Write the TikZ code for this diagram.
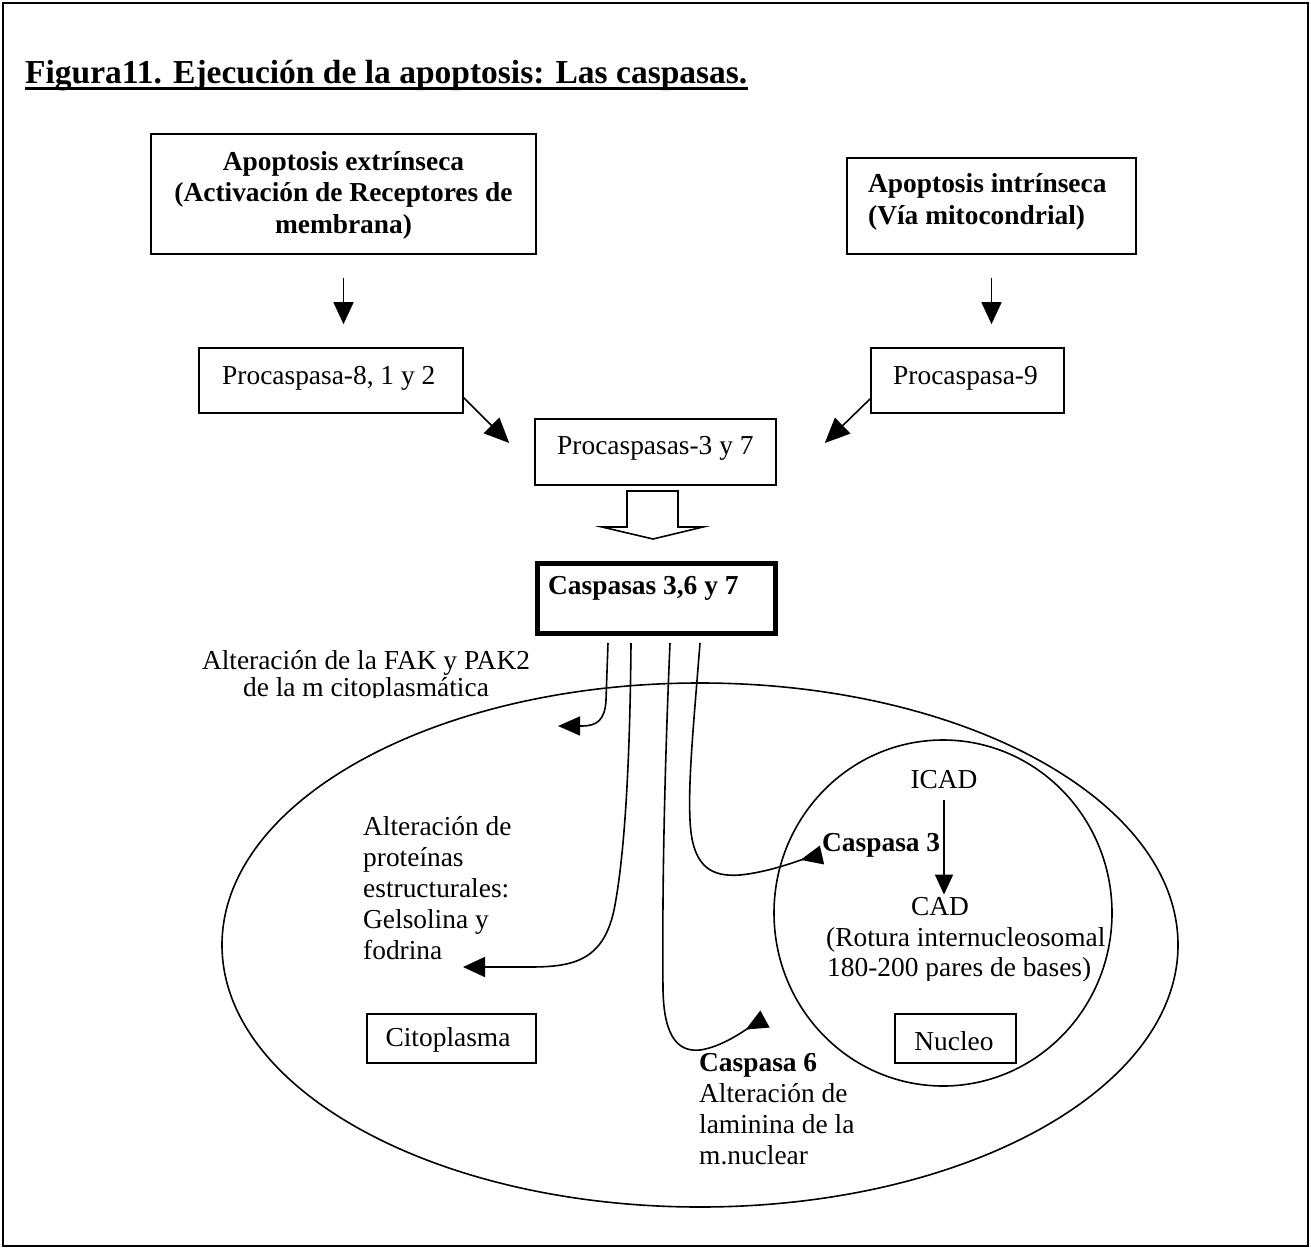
\documentclass[tikz,border=0pt]{standalone}
\usepackage{fontspec}
\setmainfont{Liberation Serif}
\usetikzlibrary{arrows.meta,calc,shapes.geometric}
\begin{document}
\begin{tikzpicture}[x=1pt,y=-1pt,
  body/.style={inner sep=0pt, font=\fontsize{27.4}{31.5}\selectfont},
  bodyb/.style={inner sep=0pt, font=\fontsize{27.4}{31.5}\selectfont\bfseries},
  boxed/.style={draw, line width=1.6pt, inner sep=0pt},
  conn/.style={line width=1.6pt},
  arr/.style={conn, -{Triangle[length=22pt,width=20pt]}},
  rarr/.style={conn, -{Triangle[reversed,length=22pt,width=19pt]}},
]
\useasboundingbox (0,0) rectangle (1311,1249);
% outer frame
\draw[line width=2.5pt] (3,3) rectangle (1308,1246);

% title
\node[inner sep=0pt, anchor=base west, font=\fontsize{33.5}{40}\selectfont\bfseries] (title) at (25,84)
  {Figura11. Ejecución de la apoptosis: Las caspasas.};
\draw[line width=3pt] ($(title.base west)+(0,5)$) -- ($(title.base east)+(0,5)$);

% initiator pathways
\node[boxed, minimum width=385pt, minimum height=120pt] (ext) at (343.5,194) {};
\node[bodyb, align=center] (extT) at (343.5,195)
  {Apoptosis extrínseca\\(Activación de Receptores de\\membrana)};
\node[boxed, minimum width=289pt, minimum height=96pt] (int) at (991.5,206) {};
\node[bodyb, align=left, anchor=west] (intT) at (868,202)
  {Apoptosis intrínseca\\(Vía mitocondrial)};

\node[boxed, minimum width=264pt, minimum height=65pt] (p8) at (331,380.5) {};
\node[body, anchor=west] (p8T) at (222,378) {Procaspasa-8, 1 y 2};
\node[boxed, minimum width=193pt, minimum height=65pt] (p9) at (967.5,380.5) {};
\node[body, anchor=west] (p9T) at (893,378) {Procaspasa-9};

\draw[arr] ($(ext.south)+(0,23)$) -- ($(ext.south |- p8.north)+(0,-23)$);
\draw[arr] ($(int.south)+(0,23)$) -- ($(int.south |- p9.north)+(0,-23)$);

% effector caspases
\node[boxed, minimum width=241pt, minimum height=66pt] (p37) at (655.5,452) {};
\node[body, anchor=west] (p37T) at (557,448) {Procaspasas-3 y 7};
\draw[arr, -{Triangle[length=25pt,width=22pt]}] ($(p8.south east)+(0,-16)$) -- ($(p37.west)+(-25,-9)$);
\draw[arr, -{Triangle[length=25pt,width=22pt]}] ($(p9.south west)+(0,-15)$) -- ($(p37.east)+(48,-9)$);

% hollow block arrow
\draw[line width=1.6pt, line join=miter] (627,491) -- (627,527) -- (602,527) -- (653,539)
  -- (703,527) -- (678,527) -- (678,491) -- cycle;

\node[draw, line width=5pt, minimum width=238pt, minimum height=70pt, inner sep=0pt] (casp) at (656.5,598) {};
\node[bodyb, anchor=west] (caspT) at (548,588) {Caspasas 3,6 y 7};

% cell and nucleus
\node[draw, ellipse, line width=1.6pt, inner sep=0pt, minimum width=956pt, minimum height=524pt] (cell) at (700,945) {};
\node[draw, ellipse, line width=1.6pt, inner sep=0pt, minimum width=338pt, minimum height=346pt] (nucleus) at (943,913) {};

% membrane label (clipped by its frame)
\begin{scope}
  \clip (150,630) rectangle (600,697);
  \node[inner sep=0pt, align=center, font=\fontsize{27.4}{27}\selectfont] (fak) at (366,676)
    {Alteración de la FAK y PAK2\\de la m citoplasmática};
\end{scope}

\node[inner sep=0pt, align=left, anchor=west, font=\fontsize{27.4}{31}\selectfont] (gel) at (363,888.5)
  {Alteración de\\proteínas\\estructurales:\\Gelsolina y\\fodrina};

\node[bodyb, anchor=west] (c3T) at (822,845) {Caspasa 3};
\node[body] (icad) at (944,780) {ICAD};
\node[body] (cad) at (940,907) {CAD};
\node[body, anchor=west] (rot1) at (826,940) {(Rotura internucleosomal};
\begin{scope}
  \clip (800,925) rectangle (1110,980);
  \node[body, anchor=west] (rot2) at (827,970) {180-200 pares de bases)};
\end{scope}
\draw[arr, -{Triangle[length=20pt,width=18pt]}] ($(icad.south)+(0,11)$) -- ($(icad.south |- cad.north)+(0,-3)$);

\node[boxed, minimum width=169pt, minimum height=49pt] (cito) at (451.5,1038.5) {};
\node[body] (citoT) at (448,1040) {Citoplasma};
\node[boxed, minimum width=121pt, minimum height=49pt] (nuc) at (955.5,1038.5) {};
\node[body] (nucT) at (954,1041) {Nucleo};

\node[inner sep=0pt, align=left, anchor=west, font=\fontsize{27.4}{31}\selectfont] (c6T) at (699,1109.5)
  {\textbf{Caspasa 6}\\Alteración de\\laminina de la\\m.nuclear};

% targets of the executioner caspases
\coordinate (s1) at (608,643);
\coordinate (s2) at (631,643);
\coordinate (s3) at (670,643);
\coordinate (s4) at (700,643);
\coordinate (e1) at (558,726);
\coordinate (e2) at (463,967);
\coordinate (e3) at (765,1019);
\coordinate (e4) at (822,855);

\draw[arr, -{Triangle[length=22pt,width=19pt]}] (s1) -- (606,700) .. controls (605,720) and (597,726) .. (582,726) -- (e1);
\draw[arr] (s2) .. controls (630,760) and (625,850) .. (615,905)
  .. controls (605,960) and (575,967) .. (530,967) -- (e2);
\draw[rarr] (s3) .. controls (665,760) and (662,880) .. (663,990)
  .. controls (664,1040) and (680,1052) .. (700,1050)
  .. controls (722,1047) and (745,1030) .. (e3);
\draw[rarr] (s4) .. controls (694,720) and (688,780) .. (690,820)
  .. controls (692,868) and (712,877) .. (740,875)
  .. controls (770,872) and (800,860) .. (e4);
\end{tikzpicture}
\end{document}
